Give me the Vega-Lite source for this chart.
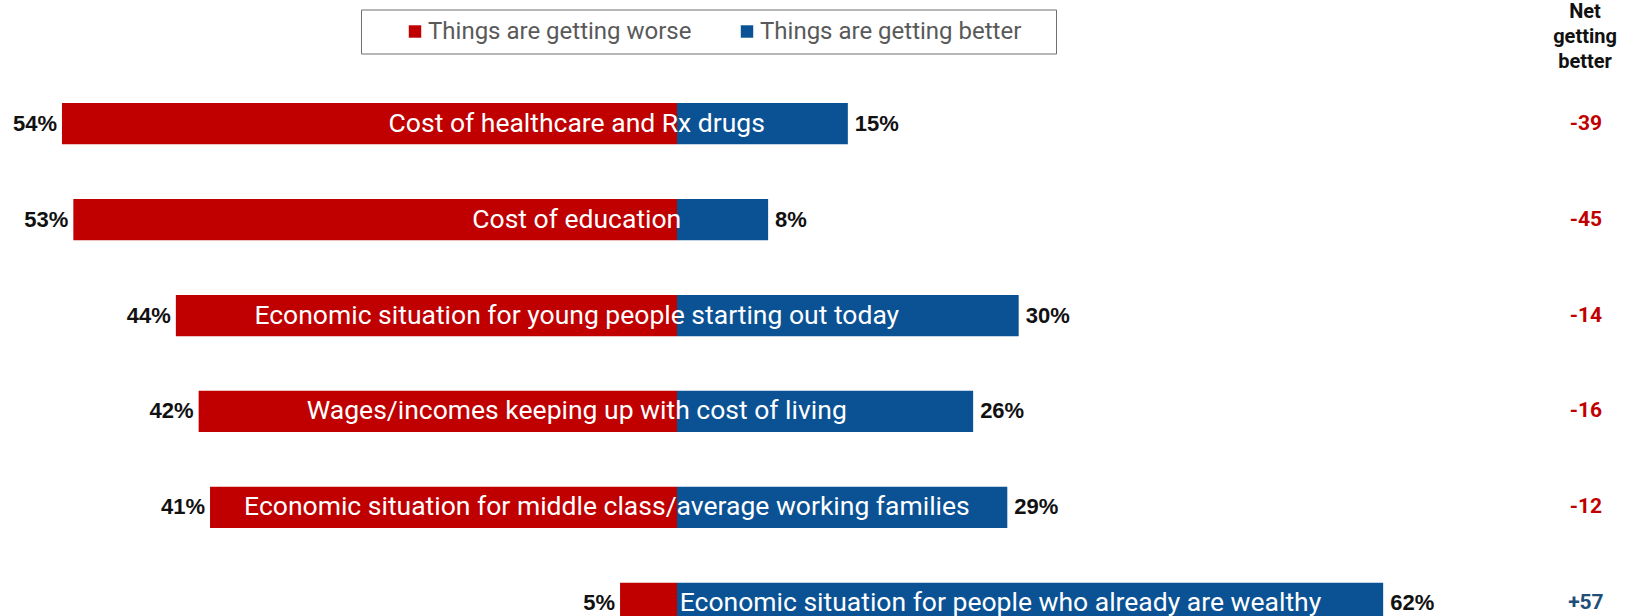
{
  "$schema": "https://vega.github.io/schema/vega-lite/v6.json",
  "width": 1631,
  "height": 513,
  "autosize": {"type": "none"},
  "padding": {"left": 0, "right": 0, "top": 103, "bottom": 0},
  "background": "white",
  "title": {
    "text": ["Net", "getting", "better"],
    "anchor": "end",
    "align": "center",
    "dx": -46,
    "offset": -63,
    "font": "Roboto",
    "fontSize": 20,
    "fontWeight": "bold",
    "color": "#111111",
    "lineHeight": 25,
    "frame": "group"
  },
  "config": {
    "view": {"stroke": null},
    "font": "Roboto",
    "locale": {
      "number": {"decimal": ".", "thousands": ",", "grouping": [3], "currency": ["$", ""], "minus": "-"}
    }
  },
  "data": {
    "values": [
      {"item": "Cost of healthcare and Rx drugs", "worse": 0.54, "better": 0.15, "net": -39},
      {"item": "Cost of education", "worse": 0.53, "better": 0.08, "net": -45},
      {"item": "Economic situation for young people starting out today", "worse": 0.44, "better": 0.30, "net": -14},
      {"item": "Wages/incomes keeping up with cost of living", "worse": 0.42, "better": 0.26, "net": -16},
      {"item": "Economic situation for middle class/average working families", "worse": 0.41, "better": 0.29, "net": -12},
      {"item": "Economic situation for people who already are wealthy", "worse": 0.05, "better": 0.62, "net": 57}
    ]
  },
  "resolve": {"scale": {"x": "independent"}},
  "encoding": {
    "y": {
      "field": "item",
      "type": "nominal",
      "sort": null,
      "axis": null,
      "scale": {"range": [0, 521], "paddingInner": 0.57, "paddingOuter": 0}
    }
  },
  "layer": [
    {
      "mark": {"type": "bar"},
      "encoding": {
        "x": {"field": "worse", "type": "quantitative", "axis": null,
              "scale": {"domain": [-0.8376, 0.5944], "reverse": true, "nice": false, "zero": false}},
        "x2": {"datum": 0},
        "color": {
          "datum": "Things are getting worse",
          "type": "nominal",
          "scale": {"domain": ["Things are getting worse", "Things are getting better"], "range": ["#C00000", "#0A5294"]},
          "legend": {
            "orient": "none",
            "legendX": 361,
            "legendY": -93.5,
            "direction": "horizontal",
            "title": "\u00a0",
            "titleOrient": "left",
            "titleFontSize": 1,
            "titlePadding": 32,
            "padding": 10,
            "strokeColor": "#6f6f6f",
            "fillColor": "white",
            "symbolType": "square",
            "symbolSize": 155,
            "symbolStrokeWidth": 0,
            "labelOffset": 1,
            "labelFont": "Roboto",
            "labelFontSize": 24,
            "labelColor": "#595959",
            "labelLimit": 500,
            "columnPadding": 19,
            "labelExpr": "datum.label + '\u00a0\u2800'"
          }
        }
      }
    },
    {
      "mark": {"type": "bar"},
      "encoding": {
        "x": {"field": "better", "type": "quantitative", "axis": null,
              "scale": {"domain": [-0.5944, 0.8376], "nice": false, "zero": false}},
        "x2": {"datum": 0},
        "color": {"datum": "Things are getting better", "type": "nominal"}
      }
    },
    {
      "mark": {"type": "text", "align": "right", "baseline": "middle", "dx": -5, "font": "Liberation Sans", "fontSize": 22, "fontWeight": "bold", "color": "#111111"},
      "encoding": {
        "x": {"field": "worse", "type": "quantitative", "axis": null,
              "scale": {"domain": [-0.8376, 0.5944], "reverse": true, "nice": false, "zero": false}},
        "text": {"field": "worse", "type": "quantitative", "format": ".0%"}
      }
    },
    {
      "mark": {"type": "text", "align": "left", "baseline": "middle", "dx": 7, "font": "Liberation Sans", "fontSize": 22, "fontWeight": "bold", "color": "#111111"},
      "encoding": {
        "x": {"field": "better", "type": "quantitative", "axis": null,
              "scale": {"domain": [-0.5944, 0.8376], "nice": false, "zero": false}},
        "text": {"field": "better", "type": "quantitative", "format": ".0%"}
      }
    },
    {
      "transform": [{"filter": "datum.worse > 0.41"}],
      "mark": {"type": "text", "align": "center", "baseline": "middle", "font": "Roboto", "fontSize": 26.5, "color": "white"},
      "encoding": {
        "x": {"datum": -0.088, "type": "quantitative", "axis": null,
              "scale": {"domain": [-0.5944, 0.8376], "nice": false, "zero": false}},
        "text": {"field": "item"}
      }
    },
    {
      "transform": [{"filter": "datum.worse == 0.41"}],
      "mark": {"type": "text", "align": "center", "baseline": "middle", "font": "Roboto", "fontSize": 26.5, "color": "white"},
      "encoding": {
        "x": {"datum": -0.0615, "type": "quantitative", "axis": null,
              "scale": {"domain": [-0.5944, 0.8376], "nice": false, "zero": false}},
        "text": {"field": "item"}
      }
    },
    {
      "transform": [{"filter": "datum.worse < 0.41"}],
      "mark": {"type": "text", "align": "center", "baseline": "middle", "font": "Roboto", "fontSize": 26.5, "color": "white"},
      "encoding": {
        "x": {"datum": 0.284, "type": "quantitative", "axis": null,
              "scale": {"domain": [-0.5944, 0.8376], "nice": false, "zero": false}},
        "text": {"field": "item"}
      }
    },
    {
      "mark": {"type": "text", "align": "center", "baseline": "middle", "font": "Roboto", "fontSize": 21, "fontWeight": "bold"},
      "encoding": {
        "x": {"datum": 0.798, "type": "quantitative", "axis": null,
              "scale": {"domain": [-0.5944, 0.8376], "nice": false, "zero": false}},
        "text": {"field": "net", "type": "quantitative", "format": "+d"},
        "color": {"condition": {"test": "datum.net > 0", "value": "#1F4E79"}, "value": "#C00000"}
      }
    }
  ]
}
